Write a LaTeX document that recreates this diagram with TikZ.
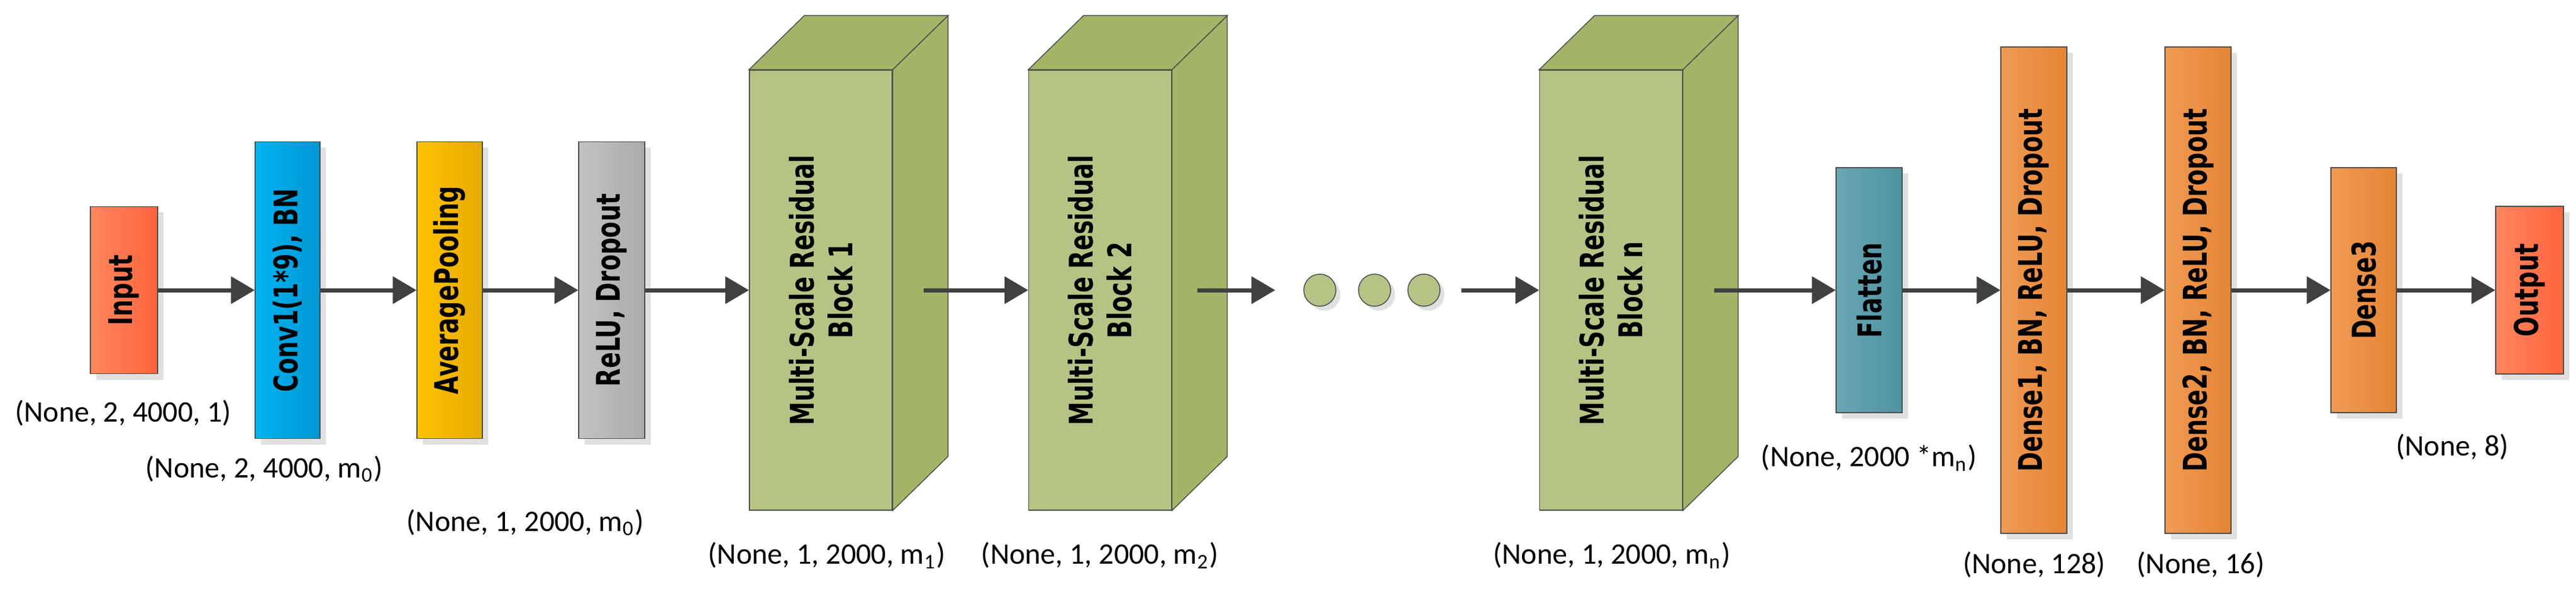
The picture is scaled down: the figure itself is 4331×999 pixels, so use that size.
\documentclass[tikz,border=0pt]{standalone}
\usepackage{fontspec}
\setmainfont{Carlito}
\newfontfamily\boxfont{DejaVu Sans}
\usetikzlibrary{arrows.meta}
\usetikzlibrary{positioning}
\usetikzlibrary{calc}
\usetikzlibrary{shadows}
\definecolor{arrowColor}{RGB}{64,64,64}
\definecolor{inL}{RGB}{255,135,95}
\definecolor{inR}{RGB}{255,100,60}
\definecolor{convL}{RGB}{0,180,240}
\definecolor{convR}{RGB}{0,150,210}
\definecolor{avgL}{RGB}{255,195,0}
\definecolor{avgR}{RGB}{228,170,0}
\definecolor{reluL}{RGB}{195,195,195}
\definecolor{reluR}{RGB}{170,170,170}
\definecolor{blkFront}{RGB}{181,196,133}
\definecolor{blkSide}{RGB}{163,181,103}
\definecolor{flatL}{RGB}{105,168,182}
\definecolor{flatR}{RGB}{78,146,160}
\definecolor{denseL}{RGB}{240,155,85}
\definecolor{denseR}{RGB}{228,132,52}
\tikzset{arrow/.style = {draw=arrowColor, line width=1.4pt, -{Triangle[length=8pt,width=9pt]}}}
\tikzset{layer/.style = {draw=black!70, line width=0.3pt, inner sep=0pt,
  drop shadow={shadow xshift=2pt, shadow yshift=-2pt, fill=black!12, opacity=1}}}
\tikzset{layertext/.style = {rotate=90, xscale=0.72, font=\boxfont\fontsize{11}{13}\selectfont\bfseries, align=center}}
\tikzset{dims/.style = {font=\fontsize{10}{12}\selectfont, inner sep=0pt}}
\begin{document}
\begin{tikzpicture}[x=0.2pt,y=-0.2pt]
\path[use as bounding box,fill=white] (0,0) rectangle (4331,999);

% plain layers
\node[layer, left color=inL, right color=inR, minimum width=22.6pt, minimum height=56.2pt] (input) at (208.5,488) {};
\node[layertext] at (input) {Input};
\node[layer, left color=convL, right color=convR, minimum width=21.8pt, minimum height=99.8pt] (conv) at (483.5,488) {};
\node[layertext] at (conv) {Conv1(1*9), BN};
\node[layer, left color=avgL, right color=avgR, minimum width=22pt, minimum height=99.8pt] (pool) at (756,488) {};
\node[layertext] at (pool) {AveragePooling};
\node[layer, left color=reluL, right color=reluR, minimum width=22.2pt, minimum height=99.8pt] (relu) at (1028.5,488) {};
\node[layertext] at (relu) {ReLU, Dropout};

% residual blocks
\foreach \name/\x/\txt in {blockA/1380/1, blockB/1849.5/2, blockN/2708.5/n}{
  \node[draw=black!70, line width=0.3pt, fill=blkFront, inner sep=0pt, minimum width=48pt, minimum height=148pt] (\name) at (\x,488) {};
  \path[draw=black!70, line width=0.3pt, fill=blkSide] (\name.north east) -- ++(93,-91) -- ($(\name.south east)+(93,-91)$) -- (\name.south east) -- cycle;
  \path[draw=black!70, line width=0.3pt, fill=blkSide] (\name.north west) -- ++(93,-91) -- ($(\name.north east)+(93,-91)$) -- (\name.north east) -- cycle;
  \node[layertext] at (\name) {Multi-Scale Residual\\Block \txt};
}

% dots
\foreach \name/\x in {dotA/2219, dotB/2311, dotC/2394}{
  \node[draw=black!70, line width=0.3pt, fill=blkFront, circle, inner sep=0pt, minimum size=10.8pt,
    drop shadow={shadow xshift=1.5pt, shadow yshift=-1.5pt, fill=black!12, opacity=1}] (\name) at (\x,488) {};
}

% dense layers
\node[layer, left color=flatL, right color=flatR, minimum width=22.2pt, minimum height=82.4pt] (flat) at (3142.5,488) {};
\node[layertext] at (flat) {Flatten};
\node[layer, left color=denseL, right color=denseR, minimum width=22.2pt, minimum height=163.6pt] (denseA) at (3419.5,488) {};
\node[layertext] at (denseA) {Dense1, BN, ReLU, Dropout};
\node[layer, left color=denseL, right color=denseR, minimum width=22.2pt, minimum height=163.6pt] (denseB) at (3695.5,488) {};
\node[layertext] at (denseB) {Dense2, BN, ReLU, Dropout};
\node[layer, left color=denseL, right color=denseR, minimum width=22pt, minimum height=82.4pt] (denseC) at (3974,488) {};
\node[layertext] at (denseC) {Dense3};
\node[layer, left color=inL, right color=inR, minimum width=22.8pt, minimum height=56.4pt] (output) at (4253,488) {};
\node[layertext] at (output) {Output};

% connectors
\coordinate (outA) at ($(blockA.east)+(52,0)$);
\coordinate (outB) at ($(blockB.east)+(43,0)$);
\coordinate (toDots) at (2144,488);
\coordinate (fromDots) at (2457,488);
\coordinate (outN) at ($(blockN.east)+(53,0)$);
\draw[arrow] (input) -- (conv);
\draw[arrow] (conv) -- (pool);
\draw[arrow] (pool) -- (relu);
\draw[arrow] (relu) -- (blockA);
\draw[arrow] (outA) -- (blockB);
\draw[arrow] (outB) -- (toDots);
\draw[arrow] (fromDots) -- (blockN);
\draw[arrow] (outN) -- (flat);
\draw[arrow] (flat) -- (denseA);
\draw[arrow] (denseA) -- (denseB);
\draw[arrow] (denseB) -- (denseC);
\draw[arrow] (denseC) -- (output);

% shapes
\node[dims] (shIn) at (207,695) {(None, 2, 4000, 1)};
\node[dims] (shConv) at (444,789) {(None, 2, 4000, m\textsubscript{0})};
\node[dims] (shPool) at (883,879) {(None, 1, 2000, m\textsubscript{0})};
\node[dims] (shA) at (1390,934) {(None, 1, 2000, m\textsubscript{1})};
\node[dims] (shB) at (1849,934) {(None, 1, 2000, m\textsubscript{2})};
\node[dims] (shN) at (2710,934) {(None, 1, 2000, m\textsubscript{n})};
\node[dims] (shFlat) at (3142,770) {(None, 2000 *m\textsubscript{n})};
\node[dims] (shDA) at (3420,950) {(None, 128)};
\node[dims] (shDB) at (3700,950) {(None, 16)};
\node[dims] (shOut) at (4123,752) {(None, 8)};
\end{tikzpicture}
\end{document}
